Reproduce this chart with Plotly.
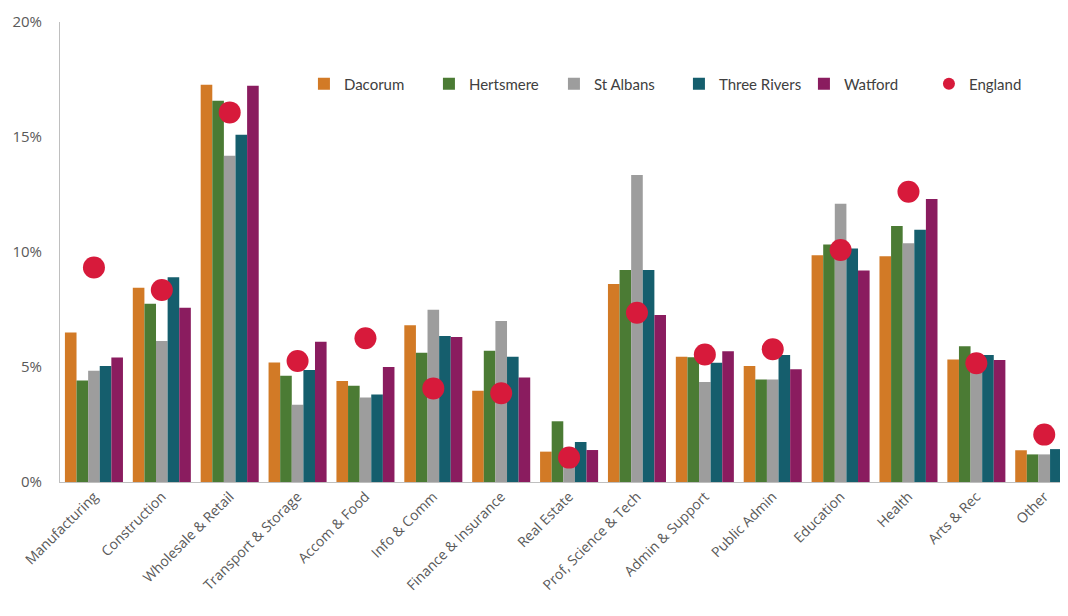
import plotly.graph_objects as go

categories = ["Manufacturing", "Construction", "Wholesale & Retail", "Transport & Storage",
              "Accom & Food", "Info & Comm", "Finance & Insurance", "Real Estate",
              "Prof, Science & Tech", "Admin & Support", "Public Admin", "Education",
              "Health", "Arts & Rec", "Other"]

dacorum      = [6.5, 8.45, 17.27, 5.2, 4.39, 6.81, 3.97, 1.32, 8.61, 5.45, 5.04, 9.86, 9.81, 5.33, 1.38]
hertsmere    = [4.41, 7.75, 16.58, 4.62, 4.19, 5.62, 5.71, 2.64, 9.22, 5.42, 4.46, 10.33, 11.13, 5.9, 1.2]
st_albans    = [4.84, 6.13, 14.19, 3.36, 3.67, 7.49, 7.0, 0.85, 13.35, 4.35, 4.46, 12.1, 10.38, 5.1, 1.2]
three_rivers = [5.04, 8.9, 15.1, 4.87, 3.8, 6.35, 5.45, 1.74, 9.22, 5.19, 5.52, 10.15, 10.97, 5.52, 1.43]
watford      = [5.41, 7.58, 17.23, 6.1, 5.0, 6.3, 4.54, 1.39, 7.26, 5.68, 4.9, 9.2, 12.3, 5.3, 1.13]
england      = [9.33, 8.35, 16.07, 5.26, 6.25, 4.07, 3.86, 1.06, 7.36, 5.54, 5.77, 10.09, 12.62, 5.16, 2.06]

y_ticks = [0, 5, 10, 15, 20]
y_tick_labels = ["0%", "5%", "10%", "15%", "20%"]

series = [
    ("Dacorum", dacorum, "#D27A26"),
    ("Hertsmere", hertsmere, "#4B7B34"),
    ("St Albans", st_albans, "#9D9D9D"),
    ("Three Rivers", three_rivers, "#155E6D"),
    ("Watford", watford, "#8A1C5F"),
]

fig = go.Figure()
for name, vals, col in series:
    fig.add_trace(go.Bar(x=categories, y=vals, name=name, marker_color=col,
                         marker_line_width=0))
fig.add_trace(go.Scatter(x=categories, y=england, name="England", mode="markers",
                         marker=dict(color="#D71A3B", size=22, symbol="circle")))

fig.update_layout(
    width=1060, height=600,
    margin=dict(l=52, r=0, t=14, b=126, autoexpand=False),
    paper_bgcolor="white", plot_bgcolor="white",
    barmode="group", bargap=0.145, bargroupgap=0,
    font=dict(family="Open Sans, sans-serif", color="#595959"),
    legend=dict(orientation="h", x=0.242, y=0.865, xanchor="left", yanchor="middle",
                entrywidth=80, entrywidthmode="pixels", itemwidth=30,
                font=dict(family="Lato, sans-serif", size=15, color="#404040"),
                bgcolor="rgba(0,0,0,0)", itemsizing="constant"),
)
fig.update_xaxes(range=[-0.5, 14.35], tickangle=-45, showline=True, linecolor="#BFBFBF",
                 linewidth=1, showgrid=False, ticks="", automargin=False,
                 tickfont=dict(size=14, color="#595959"))
fig.update_yaxes(range=[0, 20], tickvals=y_ticks, ticktext=y_tick_labels, showline=True,
                 linecolor="#BFBFBF", linewidth=1, showgrid=False, zeroline=False, ticks="",
                 automargin=False, ticklabelstandoff=14,
                 tickfont=dict(size=15, color="#595959"))

fig.write_html("out.html")
